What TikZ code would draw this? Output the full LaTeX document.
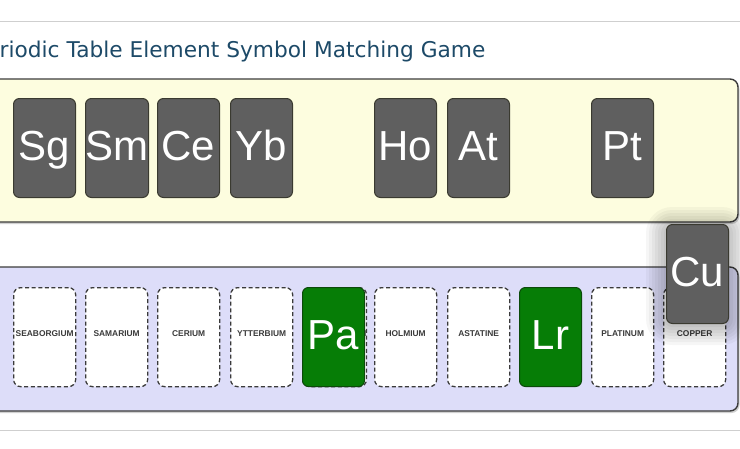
\documentclass[tikz,border=0pt]{standalone}
\usepackage{fontspec}
\setmainfont{Liberation Sans}
\newfontfamily\titlefont{DejaVu Sans}
\definecolor{cardgray}{HTML}{5F5F5F}
\definecolor{cardedge}{HTML}{3A3A30}
\definecolor{okgreen}{HTML}{067D06}
\definecolor{okedge}{HTML}{0B4A0B}
\definecolor{yellowbg}{HTML}{FDFDDF}
\definecolor{lavbg}{HTML}{DDDDF9}
\definecolor{boxedge}{HTML}{3C3C3C}
\definecolor{titleblue}{HTML}{1D4A68}
\definecolor{rulegray}{HTML}{CFCFCF}
\definecolor{labelgray}{HTML}{3A3A3A}
\begin{document}
\begin{tikzpicture}[x=1pt,y=-1pt,
  zone/.style={draw=boxedge,line width=1.4pt,rounded corners=8pt},
  card/.style={anchor=north west,minimum width=62pt,minimum height=99pt,
    rounded corners=6pt,line width=1pt,inner sep=0pt,text=white,
    font=\fontsize{42}{42}\selectfont,text height=32pt,text depth=7pt},
  graycard/.style={card,fill=cardgray,draw=cardedge},
  greencard/.style={card,fill=okgreen,draw=okedge},
  slot/.style={anchor=north west,minimum width=62pt,minimum height=99pt,
    rounded corners=7pt,fill=white,draw=labelgray,line width=1.3pt,
    dash pattern=on 4pt off 2.6pt,inner sep=0pt,text=labelgray,
    font=\bfseries\fontsize{8.4}{8.4}\selectfont,text height=6pt,text depth=7pt}]
\useasboundingbox (0,0) rectangle (740,448);
\fill[white] (0,0) rectangle (740,448);
% rules
\draw[rulegray,line width=1pt] (0,21) -- (740,21);
\draw[rulegray,line width=1pt] (0,430) -- (740,430);
% title
\node[anchor=base west,inner sep=0pt,text=titleblue,font=\titlefont\fontsize{21.7}{22}\selectfont] (title) at (-0.5,57.5) {riodic Table Element Symbol Matching Game};
% zones
\fill[black!18,rounded corners=8pt] (-10,81) rectangle (739.5,224);
\draw[zone,fill=yellowbg] (-10,79) rectangle (738,222);
\fill[black!18,rounded corners=8pt] (-10,269) rectangle (739.5,413);
\draw[zone,fill=lavbg] (-10,267) rectangle (738,411);
% slots
\node[slot] (s0) at (13,287) {SEABORGIUM};
\node[slot] (s1) at (85,287) {SAMARIUM};
\node[slot] (s2) at (157,287) {CERIUM};
\node[slot] (s3) at (230,287) {YTTERBIUM};
\node[slot] (s4) at (302,287) {PROTACTINIUM};
\node[slot] (s5) at (374,287) {HOLMIUM};
\node[slot] (s6) at (447,287) {ASTATINE};
\node[slot] (s8) at (591,287) {PLATINUM};
\node[slot] (s9) at (663,287) {COPPER};
% matched cards
\node[greencard] (pa) at (302,287) {Pa};
\node[greencard] (lr) at (519,287) {Lr};
% cards in tray
\node[graycard] (sg) at (13,98) {Sg};
\node[graycard] (sm) at (85,98) {Sm};
\node[graycard] (ce) at (157,98) {Ce};
\node[graycard] (yb) at (230,98) {Yb};
\node[graycard] (ho) at (374,98) {Ho};
\node[graycard] (at) at (447,98) {At};
\node[graycard] (pt) at (591,98) {Pt};
% dragged card shadow
\foreach \d in {20,17,...,2}{
  \fill[black,opacity=0.035,rounded corners=6+\d] (666-\d,227-\d) rectangle (728+\d,325+\d);
}
\node[graycard] (cu) at (666,224) {Cu};
\end{tikzpicture}
\end{document}
